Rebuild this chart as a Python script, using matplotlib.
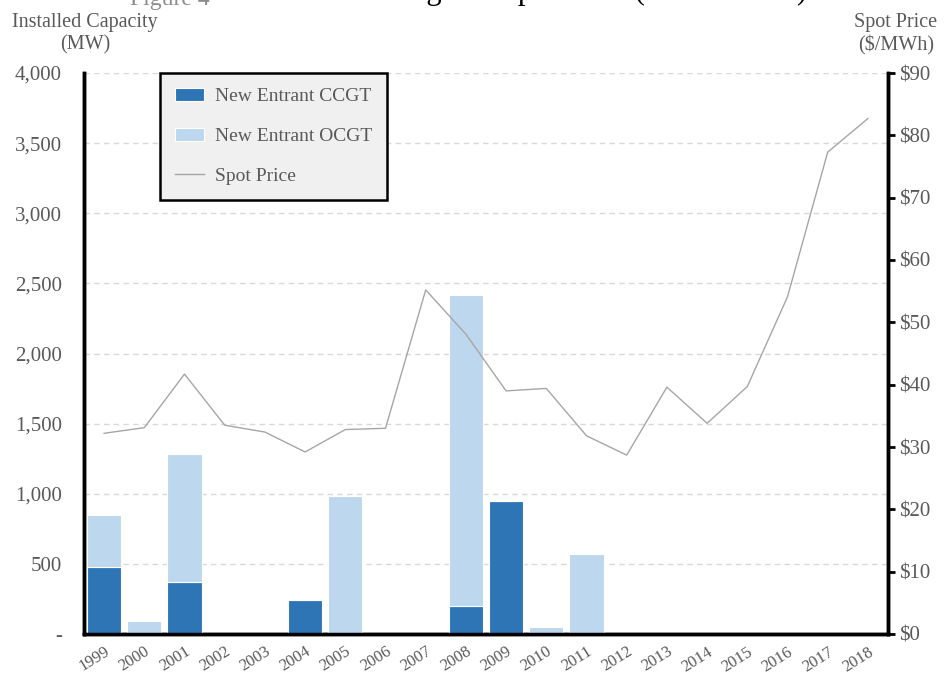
import numpy as np
import matplotlib
matplotlib.use("Agg")
import matplotlib.pyplot as plt
from matplotlib.ticker import FuncFormatter, MultipleLocator

plt.rcParams['font.family'] = ['Liberation Serif', 'DejaVu Serif']

# data
years = [str(y) for y in range(1999, 2019)]
ccgt = [480, 0, 370, 0, 0, 240, 0, 0, 0, 200, 945, 0, 0, 0, 0, 0, 0, 0, 0, 0]
ocgt = [370, 90, 910, 0, 0, 0, 985, 0, 0, 2220, 0, 50, 570, 0, 0, 0, 0, 0, 0, 0]
spot = [32.2, 33.1, 41.7, 33.5, 32.4, 29.2, 32.8, 33.0, 55.2, 48.1, 39.0, 39.4,
        31.8, 28.7, 39.6, 33.8, 39.7, 54.1, 77.3, 82.7]

c_ccgt = '#2E75B6'
c_ocgt = '#BDD7EE'
c_line = '#A6A6A6'
c_text = '#595959'

fig = plt.figure(figsize=(9.51, 6.75), dpi=100)
ax = fig.add_axes([84 / 951, 1 - 634 / 675, 804 / 951, 561 / 675])
ax2 = ax.twinx()

x = np.arange(len(years))
ax.bar(x, ccgt, width=0.85, color=c_ccgt, edgecolor='white', linewidth=0.8,
       label='New Entrant CCGT', zorder=3)
ax.bar(x, ocgt, width=0.85, bottom=ccgt, color=c_ocgt, edgecolor='white',
       linewidth=0.8, label='New Entrant OCGT', zorder=3)
ax2.plot(x, spot, color=c_line, linewidth=1.0, label='Spot Price')

ax.set_xlim(-0.5, len(years) - 0.5)
ax.set_ylim(0, 4000)
ax2.set_ylim(0, 90)
ax.yaxis.set_major_locator(MultipleLocator(500))
ax2.yaxis.set_major_locator(MultipleLocator(10))
ax.yaxis.set_major_formatter(FuncFormatter(lambda v, p: '-' if v == 0 else f'{v:,.0f}'))
ax2.yaxis.set_major_formatter(FuncFormatter(lambda v, p: f'${v:.0f}'))

ax.grid(axis='y', color='#D9D9D9', linestyle=(0, (4, 3)), linewidth=1.0, zorder=0)
ax.set_axisbelow(True)

ax.set_xticks(x)
ax.set_xticklabels(years, rotation=32, ha='right', rotation_mode='anchor')
ax.tick_params(axis='x', length=0, pad=7, labelsize=12, labelcolor=c_text)
ax.tick_params(axis='y', length=0, pad=16, labelsize=15, labelcolor=c_text)
ax2.tick_params(axis='y', length=5, width=2, color='black', pad=3,
                labelsize=15, labelcolor=c_text)

for a in (ax, ax2):
    a.spines['top'].set_visible(False)
    for s in ('left', 'right', 'bottom'):
        a.spines[s].set_linewidth(2.5)
        a.spines[s].set_color('black')

fig.text(85 / 951, 1 - 22 / 675, 'Installed Capacity', ha='center', va='center',
         fontsize=14.5, color=c_text)
fig.text(85 / 951, 1 - 45 / 675, '(MW)', ha='center', va='center',
         fontsize=14.5, color=c_text)
fig.text(896 / 951, 1 - 22 / 675, 'Spot Price', ha='center', va='center',
         fontsize=14.5, color=c_text)
fig.text(896 / 951, 1 - 45 / 675, '($/MWh)', ha='center', va='center',
         fontsize=14.5, color=c_text)

# title sits mostly above the top edge, as in the reference
fig.text(130 / 951, 1 - 5 / 675, 'Figure 4', ha='left', va='baseline',
         fontsize=17, color='#8C8C8C')
fig.text(580 / 951, 1 + 1 / 675, 'Timing and Spot Price (1999 \u2013 2018)',
         ha='center', va='baseline', fontsize=22, color='black')

h1, l1 = ax.get_legend_handles_labels()
h2, l2 = ax2.get_legend_handles_labels()
leg = ax2.legend(h1 + h2, l1 + l2, loc='upper left', bbox_to_anchor=(0.0945, 1.0),
                 borderaxespad=0, fancybox=False, frameon=True, fontsize=14,
                 labelspacing=1.15, handlelength=1.5, handletextpad=0.6,
                 borderpad=0.75)
leg.get_frame().set_facecolor('#F0F0F0')
leg.get_frame().set_edgecolor('black')
leg.get_frame().set_linewidth(1.8)
leg.get_frame().set_alpha(1)
for t in leg.get_texts():
    t.set_color(c_text)

fig.savefig('out.png', dpi=100)
